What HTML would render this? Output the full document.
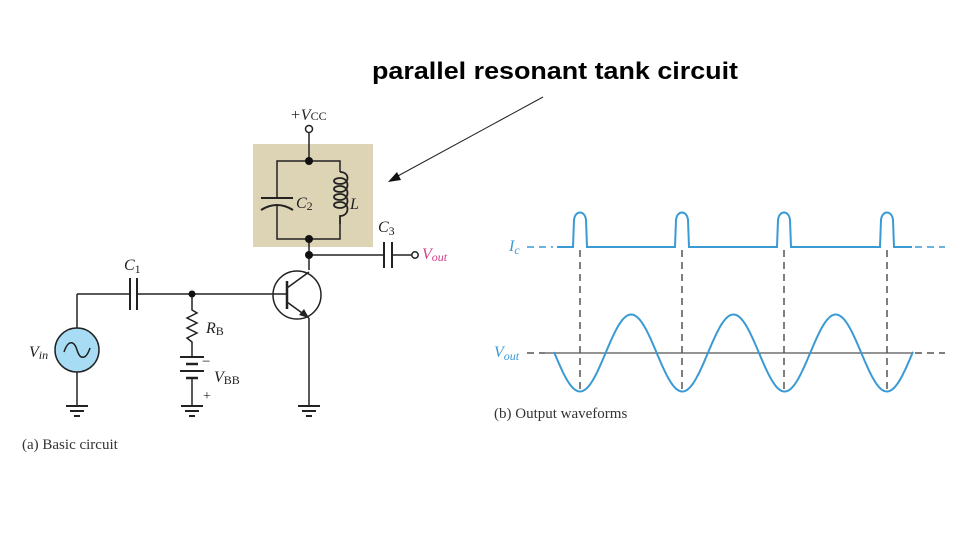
<!DOCTYPE html>
<html><head><meta charset="utf-8"><style>
html,body{margin:0;padding:0;background:#fff;}
svg{display:block}
text{font-family:"Liberation Serif",serif;}
</style></head><body>
<svg width="960" height="540" viewBox="0 0 960 540" xmlns="http://www.w3.org/2000/svg">
<text x="372" y="79" font-weight="bold" font-size="24" textLength="366" lengthAdjust="spacingAndGlyphs" style="font-family:'Liberation Sans',sans-serif">parallel resonant tank circuit</text>
<line x1="543" y1="97" x2="396" y2="177" stroke="#222" stroke-width="1"/>
<polygon points="388,182 397,172 401,180" fill="#111"/>

<rect x="253" y="144" width="120" height="103" fill="#ddd3b5"/>
<g stroke="#222" stroke-width="1.5" fill="none">
<line x1="309" y1="133" x2="309" y2="161"/>
<polyline points="277,198 277,161 340,161 340,172"/>
<polyline points="277,206 277,239 340,239 340,224"/>
<line x1="261" y1="198" x2="293" y2="198" stroke-width="2"/>
<path d="M261,210 Q277,200 293,210" stroke-width="2"/>
<path d="M340,172 C350,172 350,184 340,184 C332,184 332,178 340,178 C350,178 350,192 340,192 C332,192 332,186 340,186 C350,186 350,200 340,200 C332,200 332,194 340,194 C350,194 350,208 340,208 C332,208 332,202 340,202 C350,202 350,216 340,216 L340,224" stroke-width="1.8"/>
<line x1="309" y1="239" x2="309" y2="270"/>
<line x1="309" y1="255" x2="384" y2="255"/>
<line x1="392" y1="255" x2="412" y2="255"/>
<line x1="384" y1="242" x2="384" y2="268" stroke-width="2"/>
<line x1="392" y1="242" x2="392" y2="268" stroke-width="2"/>
<circle cx="309" cy="129" r="3.5" fill="#fff"/>
<circle cx="415" cy="255" r="3.2" fill="#fff"/>
<circle cx="297" cy="295" r="24"/>
<line x1="287" y1="281" x2="287" y2="309" stroke-width="2.5"/>
<line x1="287" y1="288" x2="309" y2="272"/>
<line x1="287" y1="302" x2="309" y2="318"/>
<line x1="309" y1="318" x2="309" y2="405"/>
<line x1="77" y1="294" x2="130" y2="294"/>
<line x1="137" y1="294" x2="287" y2="294"/>
<line x1="130" y1="278" x2="130" y2="310" stroke-width="2"/>
<line x1="137" y1="278" x2="137" y2="310" stroke-width="2"/>
<line x1="77" y1="294" x2="77" y2="328"/>
<line x1="77" y1="372" x2="77" y2="405"/>
<polyline points="192,294 192,310 197,313 187,318 197,323 187,328 197,333 187,338 192,342 192,357"/>
<line x1="180" y1="357" x2="204" y2="357" stroke-width="2"/>
<line x1="186" y1="364" x2="198" y2="364" stroke-width="2.5"/>
<line x1="180" y1="371" x2="204" y2="371" stroke-width="2"/>
<line x1="186" y1="378" x2="198" y2="378" stroke-width="2.5"/>
<line x1="192" y1="378" x2="192" y2="405"/>
<g stroke-width="2">
<line x1="66" y1="406" x2="88" y2="406"/><line x1="70" y1="411" x2="84" y2="411"/><line x1="74" y1="416" x2="80" y2="416"/>
<line x1="181" y1="406" x2="203" y2="406"/><line x1="185" y1="411" x2="199" y2="411"/><line x1="189" y1="416" x2="195" y2="416"/>
<line x1="298" y1="406" x2="320" y2="406"/><line x1="302" y1="411" x2="316" y2="411"/><line x1="306" y1="416" x2="312" y2="416"/>
</g>
</g>
<polygon points="309,318 299,315 304,309" fill="#222"/>
<g fill="#111">
<circle cx="309" cy="161" r="4"/><circle cx="309" cy="239" r="4"/><circle cx="309" cy="255" r="4"/><circle cx="192" cy="294" r="3.5"/>
</g>
<circle cx="77" cy="350" r="22" fill="#a8dcf4" stroke="#222" stroke-width="1.5"/>
<path d="M64,352 C68,340 74,340 77,350 C80,360 86,360 90,348" stroke="#222" stroke-width="1.5" fill="none"/>

<g font-size="16" font-style="italic" fill="#222">
<text x="290" y="120">+V<tspan font-size="12" font-style="normal">CC</tspan></text>
<text x="296" y="208">C<tspan font-size="12" font-style="normal" dy="2">2</tspan></text>
<text x="350" y="209">L</text>
<text x="378" y="232">C<tspan font-size="12" font-style="normal" dy="3">3</tspan></text>
<text x="422" y="259" fill="#d63c8c">V<tspan font-size="12" dy="2">out</tspan></text>
<text x="124" y="270">C<tspan font-size="12" font-style="normal" dy="3">1</tspan></text>
<text x="206" y="333">R<tspan font-size="12" font-style="normal" dy="2">B</tspan></text>
<text x="214" y="382">V<tspan font-size="12" font-style="normal" dy="2">BB</tspan></text>
<text x="29" y="357">V<tspan font-size="12" dy="2">in</tspan></text>
</g>
<text x="202" y="366" font-size="15" fill="#222">−</text>
<text x="203" y="400" font-size="14" fill="#222">+</text>
<text x="22" y="449" font-size="15" fill="#333">(a) Basic circuit</text>

<g stroke="#555" stroke-width="1.5" stroke-dasharray="7,5">
<line x1="580" y1="250" x2="580" y2="390"/>
<line x1="682" y1="250" x2="682" y2="390"/>
<line x1="784" y1="250" x2="784" y2="390"/>
<line x1="887" y1="250" x2="887" y2="390"/>
<line x1="527" y1="353" x2="545" y2="353"/>
<line x1="915" y1="353" x2="945" y2="353"/>
</g>
<line x1="545" y1="353" x2="913" y2="353" stroke="#555" stroke-width="1.3"/>
<g stroke="#3a9ad4" stroke-width="2" fill="none">
<line x1="527" y1="247" x2="553" y2="247" stroke-dasharray="7,5" stroke-width="1.5"/>
<line x1="915" y1="247" x2="945" y2="247" stroke-dasharray="7,5" stroke-width="1.5"/>
<path id="ic" d=""/>
<path id="vo" d=""/>
</g>
<g font-size="16" font-style="italic" fill="#3a9ad4">
<text x="509" y="251">I<tspan font-size="12" dy="3">c</tspan></text>
<text x="494" y="357">V<tspan font-size="12" dy="3">out</tspan></text>
</g>
<text x="494" y="418" font-size="15" fill="#333">(b) Output waveforms</text>
</svg>
<script>
var p=[580,682,784,887],d="M557,247";
p.forEach(function(x){d+=" L"+(x-7)+",247 L"+(x-6)+",220 C"+(x-5)+",210 "+(x+5)+",210 "+(x+6)+",220 L"+(x+7)+",247";});
d+=" L912,247";
document.getElementById("ic").setAttribute("d",d);
var s="";
for(var x=554;x<=913;x+=1){var y=353+38.5*Math.cos(2*Math.PI*(x-580)/102.3);s+=(s?" L":"M")+x+","+y.toFixed(1);}
document.getElementById("vo").setAttribute("d",s);
</script>
</body></html>
